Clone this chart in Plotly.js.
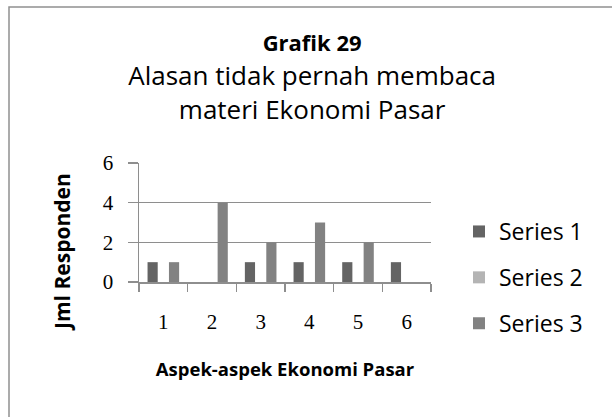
<!DOCTYPE html>
<html><head><meta charset="utf-8">
<script src="https://cdn.plot.ly/plotly-3.0.1.min.js"></script>
<style>html,body{margin:0;padding:0;background:#fff}</style>
</head><body><div id="chart" style="width:612px;height:417px"></div>
<script>
const categories = ['1','2','3','4','5','6'];
const series1 = [1,0,1,1,1,1];
const series2 = [0,0,0,0,0,0];
const series3 = [1,4,2,3,2,0];
const seriesNames = ['Series 1','Series 2','Series 3'];
const seriesColors = ['#646464','#b4b4b4','#828282'];
const yTickVals = [0,2,4,6];
const titleLine1 = 'Grafik 29';
const titleLine2 = 'Alasan tidak pernah membaca';
const titleLine3 = 'materi Ekonomi Pasar';
const xTitle = 'Aspek-aspek Ekonomi Pasar';
const yTitle = 'Jml Responden';

const allSeries = [series1, series2, series3];
const traces = allSeries.map((vals, i) => ({
  type: 'bar', x: categories, y: vals, name: seriesNames[i],
  legendgroup: 'g' + i,
  marker: {color: seriesColors[i], line: {width: 0}},
  hoverinfo: 'skip'
}));

const W = 612, H = 417;
const L = 139, R = 431, T = 163, B = 282;
const pw = R - L, ph = B - T;
const px = v => (v - L) / pw;
const py = v => (B - v) / ph;

const gray = '#8e8e8e';
const sans = 'Open Sans, sans-serif';
const serif = 'Liberation Serif, serif';

const layout = {
  width: W, height: H,
  margin: {l: L, r: W - R, t: T, b: H - B, pad: 0},
  paper_bgcolor: '#fff', plot_bgcolor: '#fff',
  font: {family: sans, color: '#000'},
  title: {
    text: '<b><span style="font-size:22px">' + titleLine1 + '</span></b><br>' + titleLine2 + '<br>' + titleLine3,
    font: {family: sans, size: 26, color: '#000'},
    x: 0.51, xanchor: 'center', xref: 'container',
    y: 1 - 51 / H, yanchor: 'top', yref: 'container'
  },
  barmode: 'group', bargap: 0.34, bargroupgap: 0.05,
  xaxis: {
    type: 'category', showgrid: false, showline: true, linecolor: gray, linewidth: 1.5,
    ticks: 'outside', ticklen: 8, tickcolor: gray, tickwidth: 1.5, tickson: 'boundaries',
    ticklabelstandoff: 20,
    tickfont: {family: serif, size: 21, color: '#000'},
    title: {text: '<b>' + xTitle + '</b>', font: {family: sans, size: 18.5, color: '#000'}, standoff: 30},
    fixedrange: true
  },
  yaxis: {
    range: [0, 6], tickvals: yTickVals, showgrid: true, gridcolor: gray, gridwidth: 1.5,
    zeroline: false, showline: true, linecolor: gray, linewidth: 1.5,
    ticks: 'outside', ticklen: 10, tickcolor: gray, tickwidth: 1.5,
    ticklabelstandoff: 10,
    tickfont: {family: serif, size: 21, color: '#000'},
    fixedrange: true
  },
  annotations: [{
    text: '<b>' + yTitle + '</b>', textangle: -90,
    xref: 'paper', yref: 'paper', x: px(62), y: py(252),
    xanchor: 'center', yanchor: 'middle', showarrow: false,
    font: {family: sans, size: 21, color: '#000'}
  }],
  showlegend: true,
  legend: {
    x: px(459), xanchor: 'left', y: py(210), yanchor: 'top',
    font: {family: sans, size: 23, color: '#000'},
    tracegroupgap: 13, bgcolor: 'rgba(0,0,0,0)', traceorder: 'grouped',
    maxheight: 300
  },
  shapes: [{
    type: 'rect', xref: 'paper', yref: 'paper',
    x0: px(9), x1: px(625), y0: py(430), y1: py(7),
    line: {color: '#909090', width: 1.5}, fillcolor: 'rgba(0,0,0,0)', layer: 'below'
  }]
};

Plotly.newPlot('chart', traces, layout, {displayModeBar: false, staticPlot: true});
</script></body></html>
